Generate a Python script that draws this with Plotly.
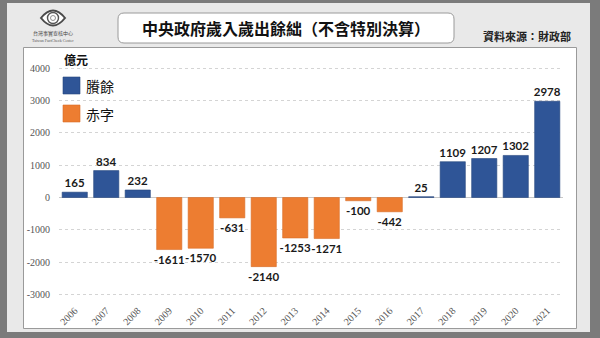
import plotly.graph_objects as go

# 中央政府歲入歲出餘絀（億元）
years = [str(y) for y in range(2006, 2022)]
balance = [165, 834, 232, -1611, -1570, -631, -2140, -1253, -1271, -100, -442, 25,
           1109, 1207, 1302, 2978]
surplus = [v if v >= 0 else None for v in balance]
deficit = [v if v < 0 else None for v in balance]
y_ticks = [4000, 3000, 2000, 1000, 0, -1000, -2000, -3000]
legend_names = ["賸餘", "赤字"]

W, H = 600, 338
L, R, T, B = 59, 563, 58, 300  # plot area in pixels


def px(x):
    return (x - L) / (R - L)


def py(y):
    return (B - y) / (B - T)


BLUE = "#2f5597"
ORANGE = "#ed7d31"
CJK = "Noto Sans CJK TC"
NUM = "Lato"
label_font = dict(family=NUM, size=11.5, color="#1a1a1a", weight="bold")

fig = go.Figure()
fig.add_trace(go.Bar(
    x=years, y=surplus, name=legend_names[0],
    marker=dict(color=BLUE, line=dict(color="#26467d", width=0.6)),
    text=[f"{v}" if v is not None else "" for v in surplus], textposition="outside",
    textfont=label_font, constraintext="none", cliponaxis=False,
))
fig.add_trace(go.Bar(
    x=years, y=deficit, name=legend_names[1],
    marker=dict(color=ORANGE, line=dict(color="#d86d26", width=0.6)),
    text=[f"{v}" if v is not None else "" for v in deficit], textposition="outside",
    textfont=label_font, constraintext="none", cliponaxis=False,
))

shapes = [
    # light panel
    dict(type="rect", xref="paper", yref="paper", x0=px(7), x1=px(590), y0=py(3), y1=py(332),
         fillcolor="#e9e9e9", line=dict(width=0), layer="below"),
    # white chart box
    dict(type="rect", xref="paper", yref="paper", x0=px(23.5), x1=px(576.5), y0=py(47.5), y1=py(328.5),
         fillcolor="#ffffff", line=dict(color="#9a9a9a", width=1), layer="below"),
    # title box
    dict(type="path", xref="paper", yref="paper", layer="below",
         path=("M {a},{b} L {c},{b} Q {c2},{b} {c2},{b2} L {c2},{d2} Q {c2},{d} {c},{d} "
               "L {a},{d} Q {a2},{d} {a2},{d2} L {a2},{b2} Q {a2},{b} {a},{b} Z").format(
             a=px(124), c=px(448), a2=px(118), c2=px(454),
             b=py(13), b2=py(19), d=py(43), d2=py(37)),
         fillcolor="#ffffff", line=dict(color="#9a9a9a", width=1)),
    # logo: eye outline and lens
    dict(type="path", xref="paper", yref="paper",
         path="M {x0},{ym} Q {xm},{yt} {x1},{ym} Q {xm},{yb} {x0},{ym} Z".format(
             x0=px(41), x1=px(65), xm=px(53), ym=py(18), yt=py(3), yb=py(33)),
         line=dict(color="#4a4a4a", width=2), fillcolor="#ffffff"),
    dict(type="circle", xref="paper", yref="paper", x0=px(47.5), x1=px(58.5), y0=py(12.5), y1=py(23.5),
         line=dict(color="#555555", width=1.4), fillcolor="#ffffff"),
    dict(type="circle", xref="paper", yref="paper", x0=px(50.5), x1=px(55.5), y0=py(15.5), y1=py(20.5),
         line=dict(color="#777777", width=0.8), fillcolor="#ffffff"),
    # legend swatches
    dict(type="rect", xref="paper", yref="paper", x0=px(63), x1=px(80), y0=py(77), y1=py(94),
         fillcolor=BLUE, line=dict(color="#26467d", width=0.6)),
    dict(type="rect", xref="paper", yref="paper", x0=px(63), x1=px(80), y0=py(105), y1=py(122),
         fillcolor=ORANGE, line=dict(color="#d86d26", width=0.6)),
]

annotations = [
    dict(text="中央政府歲入歲出餘絀（不含特別決算）", xref="paper", yref="paper",
         x=px(285.5), y=py(28), xanchor="center", yanchor="middle", showarrow=False,
         font=dict(family=CJK, size=16, color="#111111", weight="bold")),
    dict(text="資料來源：財政部", xref="paper", yref="paper",
         x=px(573), y=py(36), xanchor="right", yanchor="middle", showarrow=False,
         font=dict(family=CJK, size=11, color="#222222", weight="bold")),
    dict(text="億元", xref="paper", yref="paper",
         x=px(62), y=py(60), xanchor="left", yanchor="middle", showarrow=False,
         font=dict(family=CJK, size=12, color="#111111", weight="bold")),
    dict(text=legend_names[0], xref="paper", yref="paper",
         x=px(84), y=py(86), xanchor="left", yanchor="middle", showarrow=False,
         font=dict(family=CJK, size=14, color="#111111")),
    dict(text=legend_names[1], xref="paper", yref="paper",
         x=px(84), y=py(114), xanchor="left", yanchor="middle", showarrow=False,
         font=dict(family=CJK, size=14, color="#111111")),
    dict(text="台灣事實查核中心", xref="paper", yref="paper",
         x=px(53), y=py(33.5), xanchor="center", yanchor="middle", showarrow=False,
         font=dict(family=CJK, size=5, color="#444444")),
    dict(text="Taiwan FactCheck Center", xref="paper", yref="paper",
         x=px(53), y=py(40), xanchor="center", yanchor="middle", showarrow=False,
         font=dict(family="Liberation Serif", size=4, color="#555555")),
]

fig.update_layout(
    width=W, height=H,
    margin=dict(l=L, r=W - R, t=T, b=H - B, pad=0),
    paper_bgcolor="#7b7b7b",
    plot_bgcolor="rgba(0,0,0,0)",
    barmode="overlay",
    bargap=0.2,
    showlegend=False,
    shapes=shapes,
    annotations=annotations,
    xaxis=dict(
        type="category", tickangle=-45, showgrid=False, showline=False, ticks="",
        tickfont=dict(family="Liberation Serif", size=10, color="#555555"),
        ticklabelstandoff=2,
    ),
    yaxis=dict(
        range=[-3173, 4319], tickvals=y_ticks, ticktext=[str(v) for v in y_ticks],
        showgrid=True, gridcolor="#d4d4d4", griddash="dot", gridwidth=1,
        zeroline=True, zerolinecolor="#c8c8c8", zerolinewidth=1,
        tickfont=dict(family="Liberation Serif", size=10, color="#555555"),
        ticks="", ticklabelstandoff=8,
    ),
)

fig.write_html("out.html")
